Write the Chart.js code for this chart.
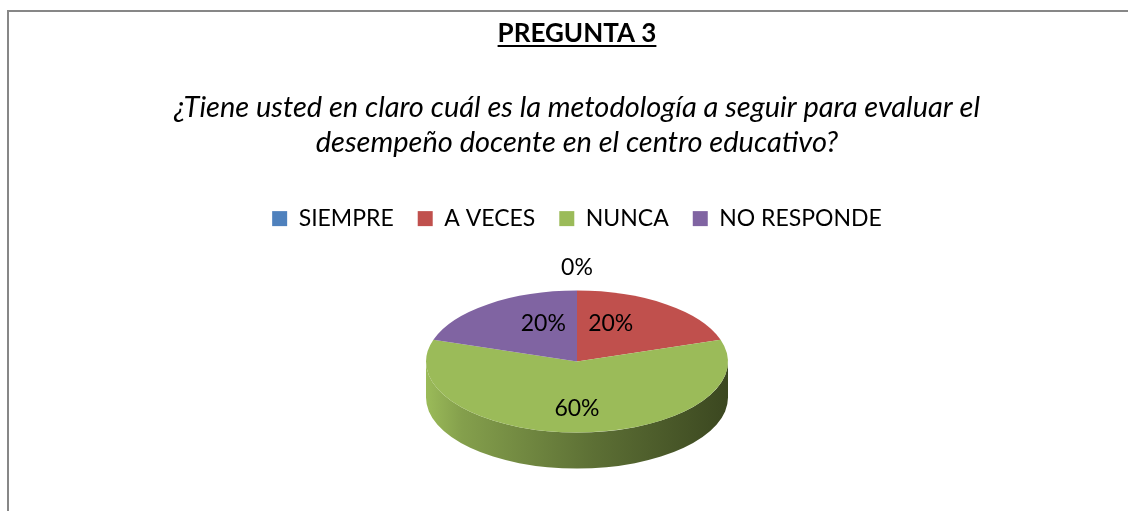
<!DOCTYPE html>
<html>
<head>
<meta charset="utf-8">
<script src="https://cdn.jsdelivr.net/npm/chart.js@4"></script>
<style>
  html, body { margin: 0; padding: 0; background: #fff; }
  #wrap { width: 1128px; height: 511px; position: relative; }
</style>
</head>
<body>
<div id="wrap"><canvas id="myChart"></canvas></div>
<script>
let titleText = 'PREGUNTA 3';
let questionLines = ['¿Tiene usted en claro cuál es la metodología a seguir para evaluar el', 'desempeño docente en el centro educativo?'];
let categories = ['SIEMPRE', 'A VECES', 'NUNCA', 'NO RESPONDE'];
let percentages = [0, 20, 60, 20];
let sliceColors = ['#4F81BD', '#C0504D', '#9BBB59', '#8064A2'];
let sideColors = ['#2f4d72', '#73302e', '#3b4720', '#4c3c61'];

const flatten = 0.47;   // vertical squash of the pie
const depth = 36;       // thickness of the 3d side
const titleFont = { family: 'Lato', size: 26, weight: 'bold' };

// gray frame like the excel chart border
const framePlugin = {
    id: 'frame',
    beforeDraw(chart) {
        let ctx = chart.ctx;
        ctx.save();
        ctx.fillStyle = '#fff';
        ctx.fillRect(0, 0, chart.width, chart.height);
        ctx.strokeStyle = '#878787';
        ctx.lineWidth = 2;
        ctx.beginPath();
        ctx.moveTo(8, chart.height);
        ctx.lineTo(8, 11);
        ctx.lineTo(chart.width, 11);
        ctx.stroke();
        ctx.restore();
    }
};

// squash the pie and add a side to fake the 3d look
const pie3dPlugin = {
    id: 'pie3d',
    beforeDatasetsDraw(chart) {
        let ctx = chart.ctx;
        let arcs = chart.getDatasetMeta(0).data;
        if (!arcs.length) return;
        let cx = arcs[0].x, cy = arcs[0].y, r = arcs[0].outerRadius;
        let ry = r * flatten;
        ctx.save();
        arcs.forEach((arc, idx) => {
            // only the front half (0..PI) of the side is visible
            let a0 = Math.max(arc.startAngle, 0);
            let a1 = Math.min(arc.endAngle, Math.PI);
            if (a1 <= a0) return;
            let grad = ctx.createLinearGradient(cx - r, 0, cx + r, 0);
            grad.addColorStop(0, sliceColors[idx]);
            grad.addColorStop(0.12, shade(sliceColors[idx], 0.85));
            grad.addColorStop(0.55, shade(sliceColors[idx], 0.6));
            grad.addColorStop(1, sideColors[idx]);
            ctx.fillStyle = grad;
            ctx.beginPath();
            ctx.ellipse(cx, cy, r, ry, 0, a0, a1, false);
            ctx.ellipse(cx, cy + depth, r, ry, 0, a1, a0, true);
            ctx.closePath();
            ctx.fill();
        });
        ctx.translate(cx, cy);
        ctx.scale(1, flatten);
        ctx.translate(-cx, -cy);
    },
    afterDatasetsDraw(chart) {
        let ctx = chart.ctx;
        ctx.restore();
        let arcs = chart.getDatasetMeta(0).data;
        let values = chart.data.datasets[0].data;
        let total = values.reduce((a, b) => a + b, 0);
        ctx.save();
        ctx.font = '23px Lato';
        ctx.fillStyle = '#000';
        ctx.textAlign = 'center';
        ctx.textBaseline = 'middle';
        arcs.forEach((arc, idx) => {
            let r = arc.outerRadius, ry = r * flatten;
            let mid = (arc.startAngle + arc.endAngle) / 2;
            let txt = Math.round(values[idx] / total * 100) + '%';
            let x, y;
            if (values[idx] === 0) {
                x = arc.x + Math.cos(mid) * (r + 22);
                y = arc.y + Math.sin(mid) * (ry + 23);
            } else {
                x = arc.x + Math.cos(mid) * r * 0.38;
                y = arc.y + Math.sin(mid) * ry * 0.66;
            }
            ctx.fillText(txt, x, y);
        });
        ctx.restore();
    },
    afterDraw(chart) {
        // underline for the title
        let tb = chart.titleBlock;
        if (!tb) return;
        let ctx = chart.ctx;
        ctx.save();
        ctx.font = `bold ${titleFont.size}px ${titleFont.family}`;
        let w = ctx.measureText(titleText).width;
        let mx = (tb.left + tb.right) / 2;
        let y = tb.top + tb.options.padding.top + 28;
        ctx.strokeStyle = '#000';
        ctx.lineWidth = 2;
        ctx.beginPath();
        ctx.moveTo(mx - w / 2, y);
        ctx.lineTo(mx + w / 2, y);
        ctx.stroke();
        ctx.restore();
    }
};

function shade(hex, f) {
    let n = parseInt(hex.slice(1), 16);
    let r = Math.round(((n >> 16) & 255) * f);
    let g = Math.round(((n >> 8) & 255) * f);
    let b = Math.round((n & 255) * f);
    return `rgb(${r}, ${g}, ${b})`;
}

const ctx = document.getElementById('myChart');

var chart = new Chart(ctx, {
    type: 'pie',
    data: {
        labels: categories,
        datasets: [{
            data: percentages,
            backgroundColor: sliceColors,
            borderWidth: 0,
            radius: 151,
            clip: false
        }]
    },
    options: {
        responsive: true,
        maintainAspectRatio: false,
        animation: false,
        layout: {
            padding: { left: 26, right: 0, top: 0, bottom: 28 }
        },
        plugins: {
            title: {
                display: true,
                text: titleText,
                color: '#000',
                font: titleFont,
                padding: { top: 18, bottom: 20 }
            },
            subtitle: {
                display: true,
                text: questionLines,
                color: '#000',
                font: { family: 'Lato', size: 29, style: 'italic', lineHeight: 1.24 },
                padding: { top: 20, bottom: 22 }
            },
            legend: {
                position: 'top',
                labels: {
                    color: '#000',
                    font: { family: 'Lato', size: 23 },
                    boxWidth: 15,
                    boxHeight: 15,
                    padding: 24
                }
            },
            tooltip: { enabled: false }
        }
    },
    plugins: [framePlugin, pie3dPlugin]
});
</script>
</body>
</html>
